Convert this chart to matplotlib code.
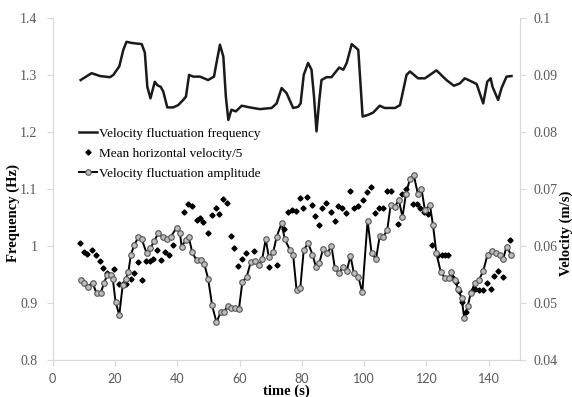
import matplotlib.pyplot as plt

# velocity fluctuation frequency (Hz, left axis)
freq_t = [9.0, 12.5, 15.2, 18.4, 19.5, 21.4, 22.7, 23.7, 25.4, 28.6, 29.6, 30.4, 31.4, 32.8,
          33.6, 34.7, 35.5, 36.8, 38.7, 40.3, 41.9, 42.8, 43.8, 45.1, 47.3, 49.9, 51.8, 52.6,
          53.7, 54.8, 55.6, 56.4, 57.4, 58.8, 60.7, 63.3, 66.5, 70.3, 71.9, 73.5, 75.1, 77.2,
          78.8, 79.6, 80.6, 82.0, 83.1, 83.9, 84.7, 85.6, 86.3, 87.9, 89.5, 92.0, 93.3, 94.4,
          96.0, 98.1, 98.6, 99.5, 101.3, 102.9, 105.0, 106.6, 109.9, 111.5, 113.6, 114.7,
          117.3, 119.5, 121.1, 123.2, 126.4, 128.8, 130.7, 132.3, 135.0, 136.1, 138.2, 139.5,
          140.6, 141.2, 143.0, 144.1, 145.7, 147.3]
freq_hz = [1.291, 1.303, 1.298, 1.296, 1.300, 1.315, 1.344, 1.358, 1.356, 1.354, 1.339, 1.279,
           1.259, 1.288, 1.282, 1.279, 1.271, 1.243, 1.243, 1.247, 1.256, 1.262, 1.300, 1.297,
           1.297, 1.291, 1.297, 1.321, 1.353, 1.332, 1.262, 1.221, 1.239, 1.236, 1.246, 1.243,
           1.240, 1.242, 1.250, 1.277, 1.268, 1.242, 1.244, 1.250, 1.300, 1.321, 1.309, 1.262,
           1.201, 1.256, 1.291, 1.296, 1.296, 1.313, 1.309, 1.321, 1.354, 1.344, 1.303, 1.227,
           1.230, 1.234, 1.246, 1.242, 1.242, 1.247, 1.300, 1.306, 1.294, 1.294, 1.300, 1.308,
           1.291, 1.281, 1.285, 1.294, 1.287, 1.284, 1.250, 1.288, 1.294, 1.279, 1.256, 1.277,
           1.297, 1.298]

# mean horizontal velocity / 5 (m/s, right axis)
vel_t = [8.8, 10.0, 11.1, 12.5, 13.8, 15.2, 16.2, 17.5, 19.8, 21.4, 22.5, 23.4, 25.0, 26.1,
         27.5, 28.6, 29.9, 31.2, 32.3, 33.6, 34.7, 36.0, 37.3, 38.5, 42.2, 43.5, 44.8, 46.2,
         47.3, 48.4, 49.8, 51.0, 52.3, 53.5, 54.8, 56.0, 57.1, 58.3, 59.6, 60.9, 62.0, 64.6,
         69.4, 71.9, 74.3, 75.6, 76.9, 78.0, 79.4, 80.4, 81.7, 83.1, 84.3, 85.6, 86.6, 87.9,
         89.2, 90.5, 91.7, 93.0, 94.1, 95.4, 96.7, 98.1, 99.5, 100.8, 102.2, 103.4, 104.7,
         105.9, 107.2, 108.5, 110.7, 112.0, 113.4, 115.7, 117.0, 117.9, 119.3, 120.4, 121.8,
         123.6, 124.9, 125.9, 127.0, 128.3, 129.4, 130.5, 131.5, 132.8, 134.2, 135.5, 136.8,
         138.2, 139.3, 140.7, 141.8, 143.1, 144.4, 146.8]
vel_ms = [0.0605, 0.0589, 0.0586, 0.0593, 0.0585, 0.0574, 0.0562, 0.0552, 0.0560, 0.0533,
          0.0533, 0.0533, 0.0542, 0.0552, 0.0572, 0.0540, 0.0574, 0.0574, 0.0578, 0.0593,
          0.0575, 0.0589, 0.0585, 0.0602, 0.0660, 0.0673, 0.0671, 0.0646, 0.0649, 0.0642,
          0.0622, 0.0654, 0.0667, 0.0656, 0.0682, 0.0675, 0.0618, 0.0596, 0.0565, 0.0577,
          0.0587, 0.0591, 0.0564, 0.0567, 0.0630, 0.0659, 0.0663, 0.0661, 0.0684, 0.0667,
          0.0686, 0.0672, 0.0653, 0.0637, 0.0667, 0.0675, 0.0660, 0.0644, 0.0671, 0.0667,
          0.0657, 0.0696, 0.0667, 0.0671, 0.0681, 0.0694, 0.0704, 0.0657, 0.0667, 0.0666,
          0.0696, 0.0696, 0.0638, 0.0691, 0.0700, 0.0673, 0.0673, 0.0666, 0.0659, 0.0656,
          0.0601, 0.0585, 0.0584, 0.0585, 0.0585, 0.0546, 0.0537, 0.0521, 0.0502, 0.0485,
          0.0520, 0.0525, 0.0523, 0.0523, 0.0536, 0.0525, 0.0548, 0.0556, 0.0546, 0.0611]

# velocity fluctuation amplitude (m/s, right axis)
amp_t = [9.0, 10.0, 11.4, 12.8, 14.1, 15.4, 16.5, 17.5, 18.6, 19.3, 20.2, 21.4, 22.5, 23.5,
         24.3, 25.1, 26.2, 27.5, 28.6, 30.2, 31.4, 32.5, 33.9, 35.3, 36.6, 37.9, 39.8, 40.9,
         41.4, 42.8, 43.7, 44.8, 46.2, 47.6, 48.7, 49.9, 51.2, 52.6, 54.0, 55.1, 56.2, 57.4,
         58.5, 59.8, 60.9, 62.3, 63.6, 64.9, 66.2, 67.3, 68.4, 69.4, 70.8, 71.9, 73.5, 74.5,
         76.2, 77.2, 78.3, 79.5, 80.6, 82.0, 83.4, 84.5, 85.6, 86.8, 88.1, 89.5, 90.6, 92.0,
         93.1, 94.4, 95.6, 96.7, 98.1, 99.4, 101.1, 102.4, 103.8, 105.0, 106.1, 107.4, 108.5,
         109.9, 111.1, 112.3, 113.4, 114.7, 115.9, 117.2, 118.4, 119.5, 121.1, 122.1, 123.2,
         124.6, 125.9, 127.2, 128.0, 129.1, 130.2, 131.3, 132.1, 133.2, 134.2, 135.5, 136.8,
         138.2, 139.6, 140.9, 142.3, 143.5, 144.6, 145.7, 147.1]
amp_ms = [0.0540, 0.0535, 0.0529, 0.0536, 0.0517, 0.0517, 0.0535, 0.0549, 0.0549, 0.0543,
          0.0502, 0.0479, 0.0532, 0.0543, 0.0554, 0.0584, 0.0602, 0.0615, 0.0612, 0.0587,
          0.0596, 0.0608, 0.0622, 0.0616, 0.0612, 0.0616, 0.0632, 0.0622, 0.0599, 0.0611,
          0.0616, 0.0589, 0.0575, 0.0575, 0.0568, 0.0543, 0.0496, 0.0466, 0.0485, 0.0485,
          0.0495, 0.0491, 0.0491, 0.0489, 0.0537, 0.0546, 0.0572, 0.0574, 0.0567, 0.0578,
          0.0612, 0.0580, 0.0589, 0.0616, 0.0640, 0.0612, 0.0593, 0.0584, 0.0523, 0.0527,
          0.0593, 0.0605, 0.0585, 0.0564, 0.0570, 0.0595, 0.0587, 0.0600, 0.0561, 0.0552,
          0.0564, 0.0556, 0.0583, 0.0552, 0.0546, 0.0519, 0.0644, 0.0587, 0.0577, 0.0618,
          0.0616, 0.0628, 0.0672, 0.0669, 0.0681, 0.0651, 0.0691, 0.0718, 0.0725, 0.0692,
          0.0700, 0.0663, 0.0672, 0.0636, 0.0587, 0.0554, 0.0544, 0.0544, 0.0554, 0.0540,
          0.0525, 0.0508, 0.0474, 0.0494, 0.0517, 0.0535, 0.0540, 0.0556, 0.0585, 0.0591,
          0.0587, 0.0585, 0.0577, 0.0599, 0.0585]

serif = "Liberation Serif"
grey = "#d9d9d9"
tick_col = "#595959"

fig = plt.figure(figsize=(5.72, 3.97), dpi=100)
ax = fig.add_axes([0.092, 0.093, 0.817, 0.862])
ax2 = ax.twinx()

l1, = ax.plot(freq_t, freq_hz, color="#1a1a1a", lw=1.8, label="Velocity fluctuation frequency")
l2, = ax2.plot(vel_t, vel_ms, ls="none", marker="D", ms=2.6, color="black",
               label="Mean horizontal velocity/5")
l3, = ax2.plot(amp_t, amp_ms, color="black", lw=1.4, marker="o", ms=4,
               mfc="#bdbdbd", mec="#555555", mew=0.8,
               label="Velocity fluctuation amplitude")

ax.set_xlim(0, 150)
ax.set_ylim(0.8, 1.4)
ax2.set_ylim(0.04, 0.1)
ax.set_xticks(range(0, 141, 20))
ax.set_yticks([0.8, 0.9, 1.0, 1.1, 1.2, 1.3, 1.4])
ax.set_yticklabels(["0.8", "0.9", "1", "1.1", "1.2", "1.3", "1.4"])
ax2.set_yticks([0.04, 0.05, 0.06, 0.07, 0.08, 0.09, 0.1])
ax2.set_yticklabels(["0.04", "0.05", "0.06", "0.07", "0.08", "0.09", "0.1"])

for a in (ax, ax2):
    a.spines["top"].set_visible(False)
    for s in ("left", "right", "bottom"):
        a.spines[s].set_color(grey)
ax.tick_params(axis="x", colors=grey, labelcolor=tick_col, length=4, pad=5, labelsize=9)
ax.tick_params(axis="y", colors=grey, labelcolor=tick_col, length=4, pad=7)
ax2.tick_params(axis="y", colors=grey, labelcolor=tick_col, length=4, pad=6)
for lab in ax.get_xticklabels():
    lab.set_family("Lato")
for lab in ax.get_yticklabels() + ax2.get_yticklabels():
    lab.set_family(serif)
    lab.set_fontsize(10)

ax.set_xlabel("time (s)", family=serif, fontweight="bold", fontsize=10.5)
ax.xaxis.set_label_coords(0.5, -0.072)
ax.set_ylabel("Frequency (Hz)", family=serif, fontweight="bold", fontsize=10.5)
ax.yaxis.set_label_coords(-0.07, 0.43)
ax2.set_ylabel("Velocity (m/s)", family=serif, fontweight="bold", fontsize=10.5)
ax2.yaxis.set_label_coords(1.085, 0.37)

ax2.legend(handles=[l1, l2, l3], loc="upper left", bbox_to_anchor=(0.045, 0.695),
           frameon=False, prop={"family": serif, "size": 9.5}, handlelength=1.35,
           handletextpad=0.15, labelspacing=0.6, borderaxespad=0)

fig.savefig("out.png", dpi=100)
